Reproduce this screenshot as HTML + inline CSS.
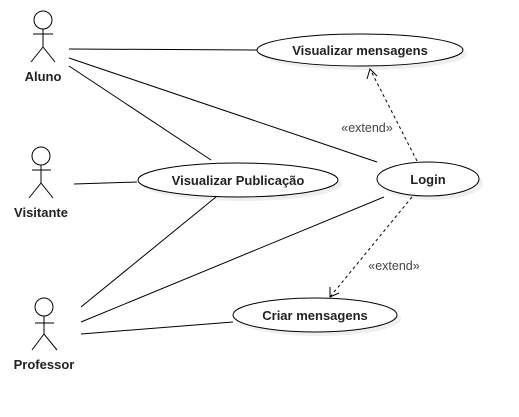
<!DOCTYPE html>
<html><head><style>body{margin:0;background:#fff}svg{display:block}</style></head><body>
<svg width="519" height="417" viewBox="0 0 519 417" xmlns="http://www.w3.org/2000/svg" font-family="Liberation Sans, sans-serif">
<g fill="#e8e8e8" opacity="0.7">
<ellipse cx="364" cy="54" rx="103" ry="16"/>
<ellipse cx="242" cy="184" rx="100" ry="17"/>
<ellipse cx="432" cy="183" rx="51" ry="17"/>
<ellipse cx="319" cy="319" rx="82" ry="17"/>
</g>
<g stroke="#000" stroke-width="1" fill="none">
<line x1="69" y1="49" x2="257" y2="50"/>
<line x1="69" y1="58" x2="377" y2="162"/>
<line x1="69" y1="66" x2="211" y2="160"/>
<line x1="74" y1="184" x2="137" y2="182"/>
<line x1="81" y1="307" x2="216" y2="197"/>
<line x1="81" y1="322" x2="384" y2="197"/>
<line x1="81" y1="334" x2="233" y2="322"/>
<g stroke-dasharray="3,3">
<line x1="417" y1="161" x2="370" y2="69"/>
<line x1="412" y1="197" x2="330" y2="297"/>
</g>
<polyline points="367,79 370,69 377,76"/>
<polyline points="330,287 330,297 339,293"/>
<g fill="#fff">
<circle cx="43" cy="20" r="9"/><circle cx="41" cy="156" r="9"/><circle cx="44" cy="307" r="9"/>
</g>
<path d="M43 29V47M33 34H53M31 62L43 47L55 62"/>
<path d="M41 165V183M32 170H51M29 198L41 183L53 198"/>
<path d="M44 316V334M35 323H54M32 350L44 334L57 350"/>
<g fill="#fff">
<ellipse cx="360" cy="50" rx="103" ry="16"/>
<ellipse cx="238" cy="180" rx="100" ry="17"/>
<ellipse cx="428" cy="179" rx="51" ry="17"/>
<ellipse cx="315" cy="315" rx="82" ry="17"/>
</g>
</g>
<g font-size="13" font-weight="bold" fill="#222" text-anchor="middle">
<text x="43" y="81">Aluno</text>
<text x="41" y="217">Visitante</text>
<text x="44" y="369">Professor</text>
<text x="360" y="55">Visualizar mensagens</text>
<text x="238" y="185">Visualizar Publicação</text>
<text x="428" y="184">Login</text>
<text x="315" y="320">Criar mensagens</text>
</g>
<g font-size="12.5" fill="#444" text-anchor="middle">
<text x="367" y="132">«extend»</text>
<text x="394" y="270">«extend»</text>
</g>
</svg>
</body></html>
